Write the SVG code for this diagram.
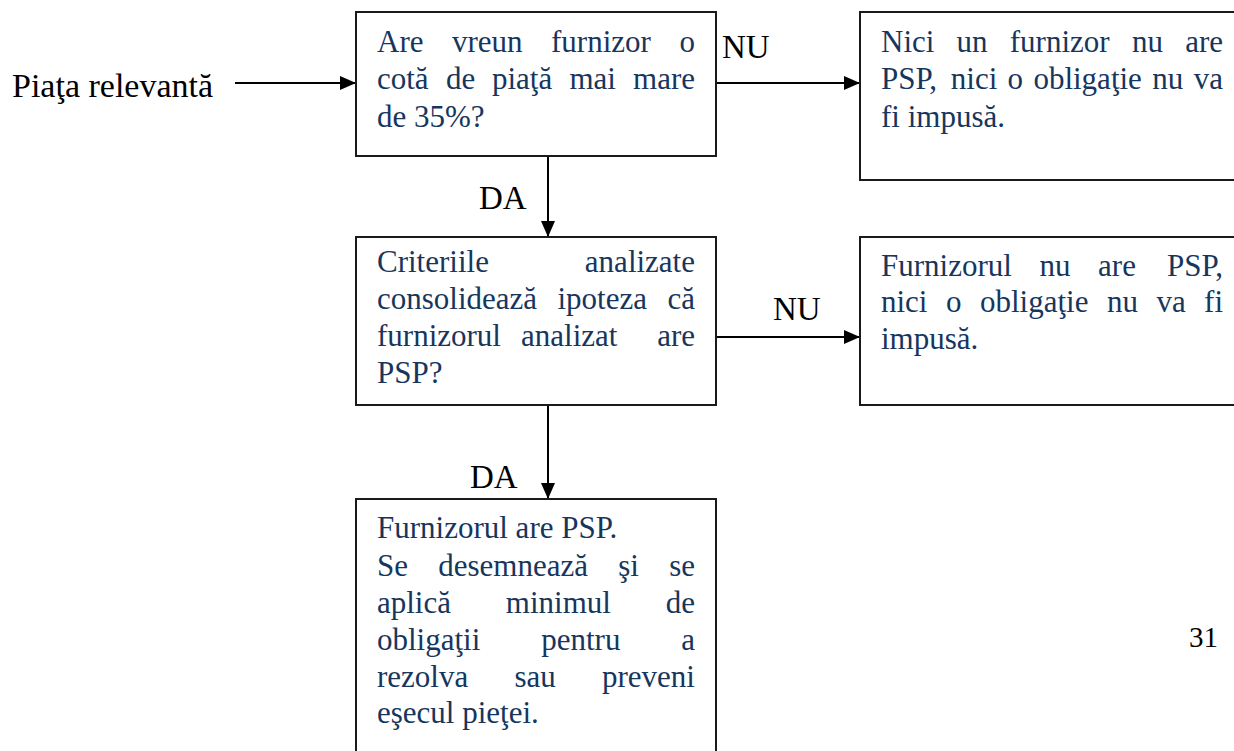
<svg xmlns="http://www.w3.org/2000/svg" width="1234" height="751" viewBox="0 0 1234 751">
<style>
.box{fill:#fff;stroke:#1a1a1a;stroke-width:2}
.t{font-family:"Liberation Serif","Times New Roman",serif;font-size:31px;fill:#17365d}
.lbl{font-family:"Liberation Serif","Times New Roman",serif;font-size:33px;fill:#000}
.e{text-anchor:end}
.conn{stroke:#000;stroke-width:2;fill:none;marker-end:url(#ah)}
</style>
<defs>
<marker id="ah" markerUnits="userSpaceOnUse" markerWidth="16" markerHeight="14" refX="16" refY="7" orient="auto">
<path d="M0,0 L16,7 L0,14 z" fill="#000"/>
</marker>
</defs>
<rect width="1234" height="751" fill="#fff"/>
<g id="connectors">
<line class="conn" x1="235" y1="83" x2="356" y2="83"/>
<line class="conn" x1="716" y1="83" x2="860" y2="83"/>
<line class="conn" x1="548" y1="156" x2="548" y2="237"/>
<line class="conn" x1="716" y1="337" x2="860" y2="337"/>
<line class="conn" x1="548" y1="405" x2="548" y2="499"/>
<text class="lbl" x="722" y="58">NU</text>
<text class="lbl" x="773" y="320">NU</text>
<text class="lbl" x="479" y="209">DA</text>
<text class="lbl" x="470" y="488">DA</text>
</g>
<g id="start">
<text class="lbl" x="12" y="97" style="font-size:34px">Piaţa relevantă</text>
</g>
<g id="q1">
<rect class="box" x="356" y="12" width="360" height="144"/>
<text class="t" y="52"><tspan x="377">Are</tspan><tspan x="452">vreun</tspan><tspan x="551">furnizor</tspan></text>
<text class="t e" x="695" y="52">o</text>
<text class="t" y="89"><tspan x="377">cotă</tspan><tspan x="446">de</tspan><tspan x="492">piaţă</tspan><tspan x="569.5">mai</tspan></text>
<text class="t e" x="695" y="89">mare</text>
<text class="t" x="377" y="127">de 35%?</text>
</g>
<g id="r1">
<rect class="box" x="860" y="12" width="384" height="168"/>
<text class="t" y="52"><tspan x="881">Nici</tspan><tspan x="956.6">un</tspan><tspan x="1009.8">furnizor</tspan><tspan x="1131.9">nu</tspan></text>
<text class="t e" x="1223" y="52">are</text>
<text class="t" y="89"><tspan x="881">PSP,</tspan><tspan x="950.8">nici</tspan><tspan x="1007.6">o</tspan><tspan x="1033.4">obligaţie</tspan><tspan x="1152.2">nu</tspan></text>
<text class="t e" x="1223" y="89">va</text>
<text class="t" x="881" y="127">fi impusă.</text>
</g>
<g id="q2">
<rect class="box" x="356" y="237" width="360" height="168"/>
<text class="t" x="377" y="272">Criteriile</text>
<text class="t e" x="695" y="272">analizate</text>
<text class="t" y="309"><tspan x="377">consolidează</tspan><tspan x="557.5">ipoteza</tspan></text>
<text class="t e" x="695" y="309">că</text>
<text class="t" y="346"><tspan x="377">furnizorul</tspan><tspan x="521">analizat</tspan></text>
<text class="t e" x="695" y="346">are</text>
<text class="t" x="377" y="383">PSP?</text>
</g>
<g id="r2">
<rect class="box" x="860" y="237" width="384" height="168"/>
<text class="t" y="276"><tspan x="881">Furnizorul</tspan><tspan x="1039.5">nu</tspan><tspan x="1098.1">are</tspan></text>
<text class="t e" x="1223" y="276">PSP,</text>
<text class="t" y="312"><tspan x="881">nici</tspan><tspan x="946">o</tspan><tspan x="980">obligaţie</tspan><tspan x="1107">nu</tspan><tspan x="1156.5">va</tspan></text>
<text class="t e" x="1223" y="312">fi</text>
<text class="t" x="881" y="349">impusă.</text>
</g>
<g id="r3">
<rect class="box" x="356" y="499" width="360" height="270"/>
<text class="t" x="377" y="538">Furnizorul are PSP.</text>
<text class="t" y="576"><tspan x="377">Se</tspan><tspan x="438.2">desemnează</tspan><tspan x="618.2">şi</tspan></text>
<text class="t e" x="695" y="576">se</text>
<text class="t" y="613"><tspan x="377">aplică</tspan><tspan x="505.8">minimul</tspan></text>
<text class="t e" x="695" y="613">de</text>
<text class="t" y="650"><tspan x="377">obligaţii</tspan><tspan x="541.2">pentru</tspan></text>
<text class="t e" x="695" y="650">a</text>
<text class="t" y="687"><tspan x="377">rezolva</tspan><tspan x="514.5">sau</tspan></text>
<text class="t e" x="695" y="687">preveni</text>
<text class="t" x="377" y="723">eşecul pieţei.</text>
</g>
<g id="page">
<text class="lbl" x="1189" y="647" style="font-size:29px">31</text>
</g>
</svg>
